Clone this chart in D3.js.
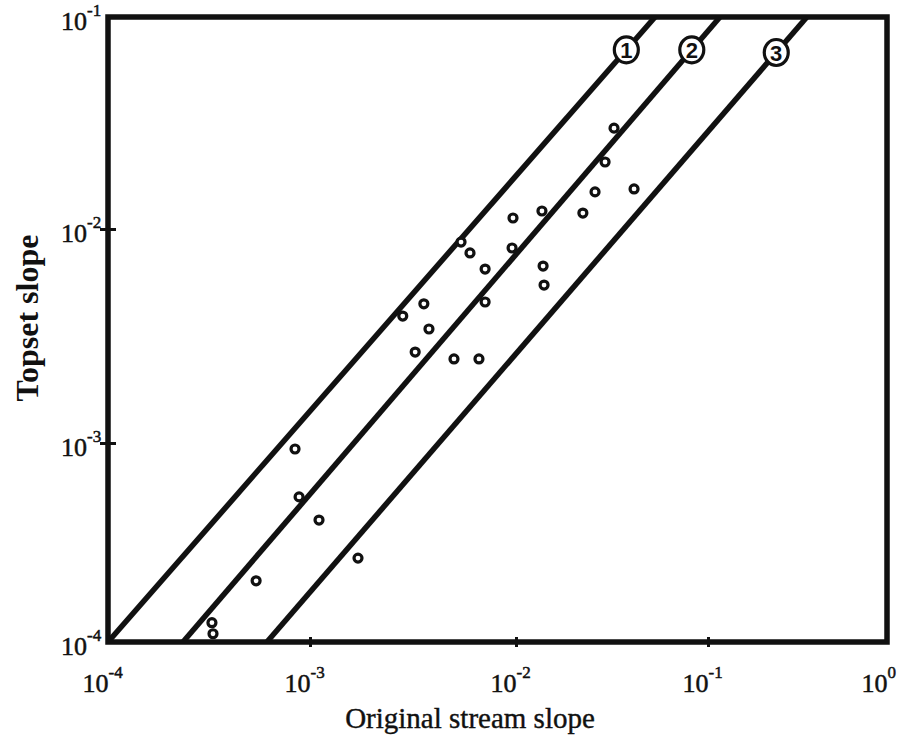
<!DOCTYPE html>
<html>
<head>
<meta charset="utf-8">
<title>Topset slope vs original stream slope</title>
<style>
  body { margin: 0; background: #fff; }
  svg text { fill: #111; }
</style>
</head>
<body>
<script src="https://cdn.jsdelivr.net/npm/d3@7/dist/d3.min.js"></script>
<script>

// observed points (original stream slope, topset slope)
var originalSlope = [0.0324, 0.0291, 0.0412, 0.0258, 0.0223, 0.01365, 0.00967, 0.00541, 0.00598,
                     0.00957, 0.00708, 0.01384, 0.0140, 0.00708, 0.00357, 0.00282, 0.00378, 0.00324,
                     0.00500, 0.00661, 0.000843, 0.000883, 0.001106, 0.00171, 0.000541, 0.000327, 0.000331];
var topsetSlope   = [0.0299, 0.0207, 0.01545, 0.01496, 0.01189, 0.01216, 0.01127, 0.00869, 0.00773,
                     0.00815, 0.00650, 0.00671, 0.00547, 0.00456, 0.00447, 0.00392, 0.00341, 0.00266,
                     0.00247, 0.00247, 0.000933, 0.000536, 0.000410, 0.000264, 0.000203, 0.000125, 0.000110];

// the three reference lines: x where they meet the bottom (1e-4) and the top (1e-1)
var lineNames  = ["1", "2", "3"];
var lineXStart = [0.0001, 0.000235, 0.000612];
var lineXEnd   = [0.0530, 0.1167, 0.357];
var lineYStart = 0.0001;
var lineYEnd   = 0.1;
var lineLabelY = [0.070, 0.070, 0.068];

// ticks
var xTicks = [1e-4, 1e-3, 1e-2, 1e-1, 1];
var xExp   = ["-4", "-3", "-2", "-1", "0"];
var yTicks = [1e-4, 1e-3, 1e-2, 1e-1];
var yExp   = ["-4", "-3", "-2", "-1"];

var W = 901, H = 739;
var serif = "'Liberation Serif', 'Times New Roman', Times, serif";

var svg = d3.select("body").append("svg")
    .attr("width", W)
    .attr("height", H);

// hand drawn decades are not quite even, so piecewise log scales
var x = d3.scaleLog().domain(xTicks).range([108, 310, 516, 708, 887]);
var y = d3.scaleLog().domain(yTicks).range([642, 443, 229, 17]);

var ink = "#111";

// reference lines
var lines = lineNames.map(function(n, i) {
  return { name: n, x0: lineXStart[i], x1: lineXEnd[i], ly: lineLabelY[i] };
});

svg.append("g")
  .selectAll("line")
  .data(lines)
  .enter()
  .append("line")
  .attr("x1", function(d) { return x(d.x0); })
  .attr("y1", y(lineYStart))
  .attr("x2", function(d) { return x(d.x1); })
  .attr("y2", y(lineYEnd))
  .attr("stroke", ink)
  .attr("stroke-width", 5.5);

// points
svg.append("g")
  .selectAll("circle")
  .data(originalSlope)
  .enter()
  .append("circle")
  .attr("cx", function(d) { return x(d); })
  .attr("cy", function(d, i) { return y(topsetSlope[i]); })
  .attr("r", 4)
  .attr("fill", "#fff")
  .attr("stroke", ink)
  .attr("stroke-width", 3.2);

// frame
svg.append("rect")
  .attr("x", x(1e-4))
  .attr("y", y(1e-1))
  .attr("width", x(1) - x(1e-4))
  .attr("height", y(1e-4) - y(1e-1))
  .attr("fill", "none")
  .attr("stroke", ink)
  .attr("stroke-width", 5.5);

// line labels in circles
var lab = svg.append("g")
  .selectAll("g")
  .data(lines)
  .enter()
  .append("g")
  .attr("transform", function(d) {
    var py = y(d.ly);
    var t = (py - y(lineYStart)) / (y(lineYEnd) - y(lineYStart));
    var px = x(d.x0) + t * (x(d.x1) - x(d.x0));
    return "translate(" + px + "," + py + ")";
  });

lab.append("ellipse")
  .attr("rx", 12)
  .attr("ry", 13)
  .attr("fill", "#fff")
  .attr("stroke", ink)
  .attr("stroke-width", 3.2);

lab.append("text")
  .attr("text-anchor", "middle")
  .attr("y", 8)
  .attr("font-family", "'Liberation Sans', Arial, sans-serif")
  .attr("font-size", 22)
  .attr("font-weight", "bold")
  .text(function(d) { return d.name; });

// x axis ticks + labels
var xAxis = svg.append("g")
  .attr("transform", "translate(0," + y(1e-4) + ")")
  .call(d3.axisBottom(x).tickValues(xTicks).tickFormat(function() { return "10"; }).tickSizeOuter(0))
  .attr("font-family", serif)
  .attr("font-size", 26);

xAxis.select(".domain").remove();
xAxis.selectAll(".tick line")
  .attr("y1", -5).attr("y2", 5)
  .attr("stroke", ink).attr("stroke-width", 3)
  .filter(function(d, i) { return i == 0 || i == xTicks.length - 1; })
  .remove();
xAxis.selectAll(".tick text")
  .attr("text-anchor", "start")
  .attr("x", -26)
  .attr("y", 50)
  .attr("dy", null)
  .attr("fill", ink)
  .attr("stroke", ink)
  .attr("stroke-width", 0.5)
  .attr("font-family", serif)
  .attr("font-size", 26)
  .append("tspan")
  .attr("dy", -14)
  .attr("font-size", 17)
  .text(function(d, i) { return xExp[i]; });

// y axis ticks + labels
var yAxis = svg.append("g")
  .attr("transform", "translate(" + x(1e-4) + ",0)")
  .call(d3.axisLeft(y).tickValues(yTicks).tickFormat(function() { return "10"; }).tickSizeOuter(0))
  .attr("font-family", serif)
  .attr("font-size", 26);

yAxis.select(".domain").remove();
yAxis.selectAll(".tick line")
  .attr("x1", -8).attr("x2", 8)
  .attr("stroke", ink).attr("stroke-width", 3)
  .filter(function(d, i) { return i == 0 || i == yTicks.length - 1; })
  .remove();
yAxis.selectAll(".tick text")
  .attr("text-anchor", "start")
  .attr("x", -47)
  .attr("y", 12)
  .attr("dy", null)
  .attr("fill", ink)
  .attr("stroke", ink)
  .attr("stroke-width", 0.5)
  .attr("font-family", serif)
  .attr("font-size", 26)
  .append("tspan")
  .attr("dy", -14)
  .attr("font-size", 17)
  .text(function(d, i) { return yExp[i]; });

// axis titles
svg.append("text")
  .attr("x", 470)
  .attr("y", 728)
  .attr("text-anchor", "middle")
  .attr("font-family", serif)
  .attr("font-size", 29)
  .attr("stroke", ink)
  .attr("stroke-width", 0.4)
  .text("Original stream slope");

svg.append("text")
  .attr("transform", "translate(38,318) rotate(-90)")
  .attr("text-anchor", "middle")
  .attr("font-family", serif)
  .attr("font-size", 32)
  .attr("font-weight", "bold")
  .text("Topset slope");

</script>
</body>
</html>
